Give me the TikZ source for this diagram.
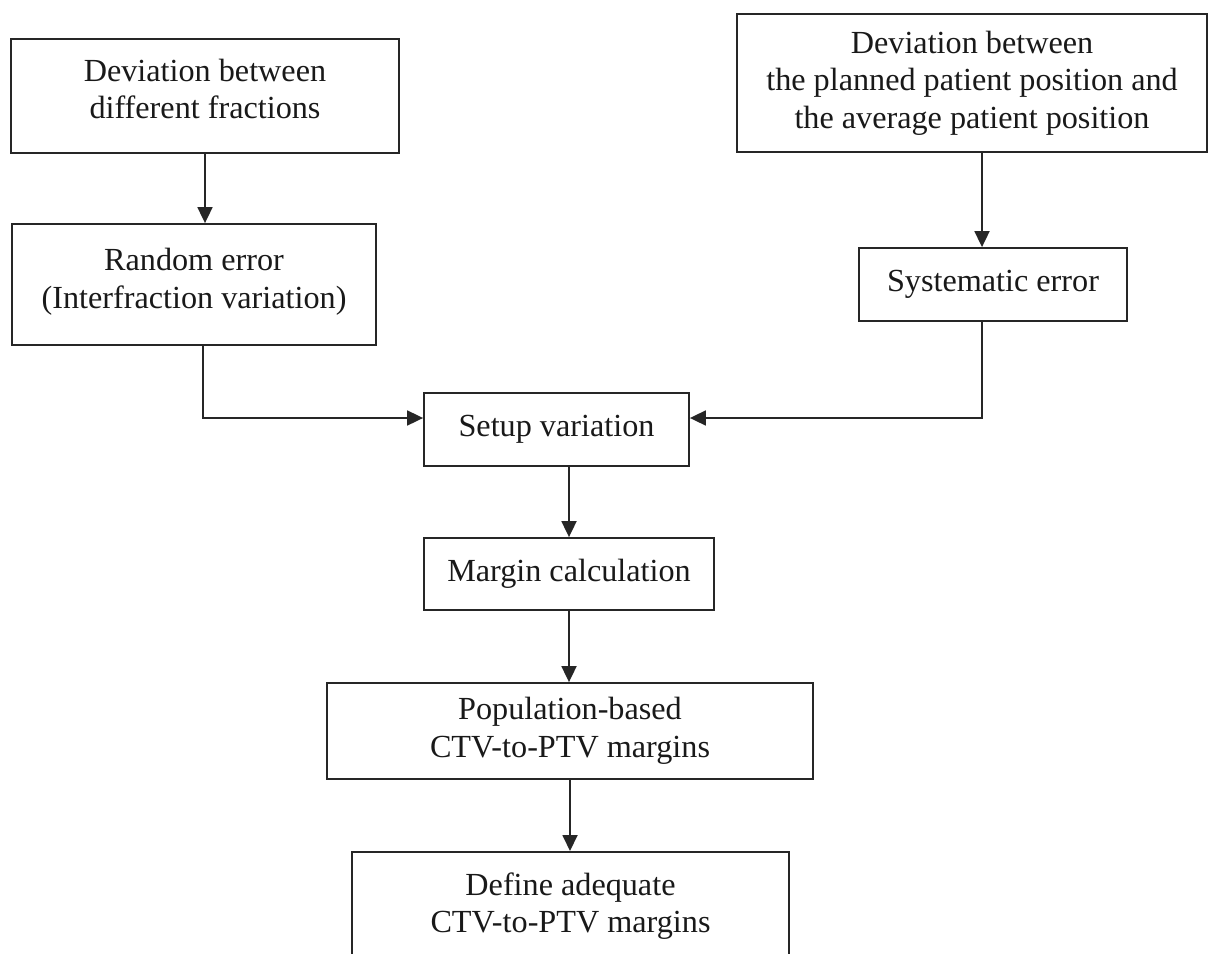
\documentclass[tikz,border=0pt]{standalone}
\usepackage{fontspec}
\setmainfont{Liberation Serif}
\usetikzlibrary{arrows.meta,positioning}

\tikzset{
  box/.style={draw=black!85, line width=1.8pt, align=center, inner sep=0pt,
    font=\fontsize{32.2}{37.5}\selectfont, text=black!90},
  flow/.style={draw=black!85, line width=1.8pt,
    -{Triangle[length=16pt,width=15pt]}},
}

\begin{document}
\begin{tikzpicture}[x=1pt,y=-1pt]
  \useasboundingbox[fill=white] (0,0) rectangle (1209,953);

  % sources of error (a trailing row lifts the text slightly)
  \node[box, minimum width=388pt, minimum height=114pt] (frac) at (205,96)
    {Deviation between\\different fractions\\[-23.5pt]};
  \node[box, minimum width=470pt, minimum height=138pt] (plan) at (972,83)
    {Deviation between\\the planned patient position and\\the average patient position};

  \node[box, minimum width=364pt, minimum height=121pt] (rand) at (194,284.5)
    {Random error\\(Interfraction variation)\\[-25.5pt]};
  \node[box, minimum width=268pt, minimum height=73pt] (syst) at (993,284.5)
    {Systematic error};

  % central chain
  \node[box, minimum width=265pt, minimum height=73pt] (setup) at (556.5,429.5)
    {Setup variation};
  \node[box, minimum width=290pt, minimum height=72pt] (marg) at (569,574)
    {Margin calculation};
  \node[box, minimum width=486pt, minimum height=96pt] (pop) at (570,731)
    {Population-based\\CTV-to-PTV margins};
  \node[box, minimum width=437pt, minimum height=108pt, anchor=north] (def) at (570.5,851)
    {Define adequate\\CTV-to-PTV margins};

  % branch points
  \coordinate (fracdown) at ([xshift=11pt]rand.north);
  \coordinate (plandown) at ([xshift=10pt]plan.south);
  \coordinate (randout) at ([xshift=9pt]rand.south);
  \coordinate (systout) at ([xshift=-11pt]syst.south);
  \coordinate (joinL) at ([yshift=11.5pt]setup.west);
  \coordinate (joinR) at ([yshift=11.5pt]setup.east);
  \coordinate (setupout) at ([xshift=12.5pt]setup.south);

  % connectors
  \draw[flow] (frac.south) -- (fracdown);
  \draw[flow] (plandown) -- (plandown |- syst.north);
  \draw[flow] (randout) -- (randout |- joinL) -- (joinL);
  \draw[flow] (systout) -- (systout |- joinR) -- (joinR);
  \draw[flow] (setupout) -- (setupout |- marg.north);
  \draw[flow] (marg.south) -- (marg.south |- pop.north);
  \draw[flow] (pop.south) -- (pop.south |- def.north);
\end{tikzpicture}
\end{document}
